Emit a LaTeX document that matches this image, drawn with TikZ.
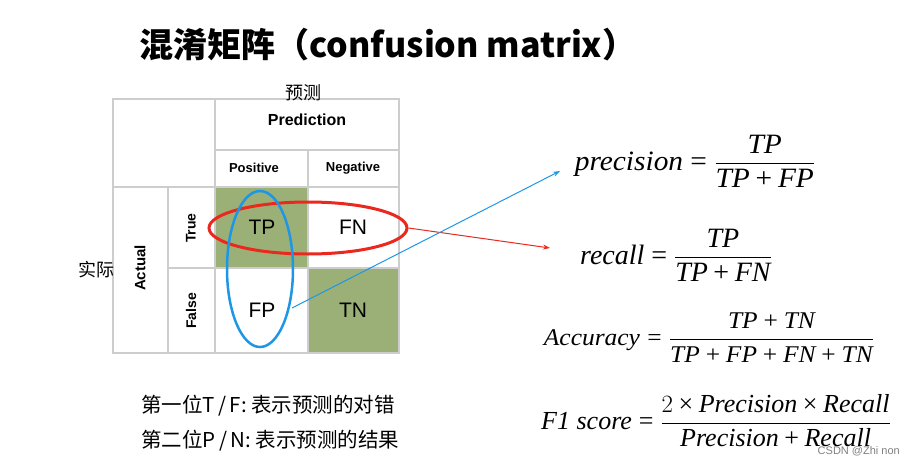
\documentclass[tikz,border=0pt]{standalone}
\usepackage{amsmath}
\usepackage{graphicx}
\usepackage{fontspec}
\usetikzlibrary{shapes.geometric,arrows.meta}
\newfontfamily\cjk{Noto Sans CJK SC}
\newfontfamily\tnr{Liberation Serif}
\newfontfamily\tsans{Liberation Sans}
\newcommand\ti[1]{\text{\tnr\itshape #1}}
\newcommand\tu[1]{\mathbin{\text{\tnr #1}}}
\newcommand\teq{\mathrel{\text{\tnr =}}}
\definecolor{cellgreen}{RGB}{155,176,118}
\definecolor{gridgray}{RGB}{205,205,205}
\definecolor{redc}{RGB}{235,40,30}
\definecolor{bluec}{RGB}{30,150,230}
\tikzset{
  grid/.style={draw=gridgray,line width=1.5pt},
  hdr/.style={font=\tsans\bfseries\fontsize{13}{15}\selectfont,inner sep=0pt},
  cell/.style={font=\tsans\fontsize{21}{24}\selectfont,inner sep=0pt},
  cn/.style={font=\cjk\fontsize{18}{22}\selectfont,inner sep=0pt},
  note/.style={font=\cjk\fontsize{20.5}{24}\selectfont,inner sep=0pt,anchor=west},
  formula/.style={inner sep=0pt},
  arr/.style={-{Stealth[length=7pt,width=5pt]},line width=1pt}
}
\begin{document}
\begin{tikzpicture}[x=1pt,y=-1pt]
\useasboundingbox (0,0) rectangle (914,466);
% title
\node[inner sep=0pt,font=\cjk\bfseries\fontsize{34}{40}\selectfont] (title) at (388,45) {混淆矩阵（confusion matrix）};
% table
\fill[cellgreen] (215,187) rectangle (308,268);
\fill[cellgreen] (308,268) rectangle (399,353);
\draw[grid] (113,99) rectangle (399,353);
\draw[grid] (215,99) -- (215,353);
\draw[grid] (308,150) -- (308,353);
\draw[grid] (215,150) -- (399,150);
\draw[grid] (113,187) -- (399,187);
\draw[grid] (168,187) -- (168,353);
\draw[grid] (168,268) -- (399,268);
\node[cn] (yc) at (303,93) {预测};
\node[hdr,font=\tsans\bfseries\fontsize{16}{18}\selectfont] (pred) at (307,120) {Prediction};
\node[hdr] (pos) at (254,168) {Positive};
\node[hdr] (neg) at (353,168) {Negative};
\node[hdr,font=\tsans\bfseries\fontsize{14}{16}\selectfont,rotate=90] (tru) at (191,228) {True};
\node[hdr,font=\tsans\bfseries\fontsize{14}{16}\selectfont,rotate=90] (fal) at (191,311) {False};
\node[hdr,font=\tsans\bfseries\fontsize{15}{17}\selectfont,rotate=90] (act) at (140,268) {Actual};
\node[cn] (sj) at (96,270) {实际};
\node[cell] (tp) at (262,227) {TP};
\node[cell] (fn) at (353,227) {FN};
\node[cell] (fp) at (262,310) {FP};
\node[cell] (tn) at (353,310) {TN};
% ellipses
\node[ellipse,draw=redc,line width=3pt,minimum width=198pt,minimum height=52pt,inner sep=0pt] (redell) at (308,228) {};
\node[ellipse,draw=bluec,line width=2.5pt,minimum width=66pt,minimum height=156pt,inner sep=0pt] (blueell) at (260,269) {};
% formulas
\node[formula] (prec) at (695,161) {\scalebox{1.05}[1]{\fontsize{28}{34}\selectfont$\ti{precision}\teq\dfrac{\ti{TP}}{\ti{TP}\tu{+}\ti{FP}}$}};
\node[formula] (rec) at (676,255) {\fontsize{28}{34}\selectfont$\ti{recall}\teq\dfrac{\ti{TP}}{\ti{TP}\tu{+}\ti{FN}}$};
\node[formula] (acc) at (709,338) {\scalebox{1.06}[1]{\fontsize{24}{28}\selectfont$\ti{Accuracy}\teq\dfrac{\ti{TP}\tu{+}\ti{TN}}{\ti{TP}\tu{+}\ti{FP}\tu{+}\ti{FN}\tu{+}\ti{TN}}$}};
\node[formula] (fone) at (716,421) {\fontsize{26}{30}\selectfont$\ti{F1 score}\teq\dfrac{2\tu{×}\ti{Precision}\tu{×}\ti{Recall}}{\ti{Precision}\tu{+}\ti{Recall}}$};
% arrows
\coordinate (redend) at (550,248);
\coordinate (blueend) at (560,171);
\coordinate (bluestart) at (292,308);
\draw[arr,redc] (redell.east) -- (redend);
\draw[arr,bluec] (bluestart) -- (blueend);
% notes
\node[note] (n1) at (141,406) {第一位T\,/\,F: 表示预测的对错};
\node[note] (n2) at (141,441) {第二位P\,/\,N: 表示预测的结果};
\node[inner sep=0pt,anchor=east,text=gray,font=\tsans\fontsize{11}{13}\selectfont] (wm) at (900,451) {CSDN @Zhi non};
\end{tikzpicture}
\end{document}
